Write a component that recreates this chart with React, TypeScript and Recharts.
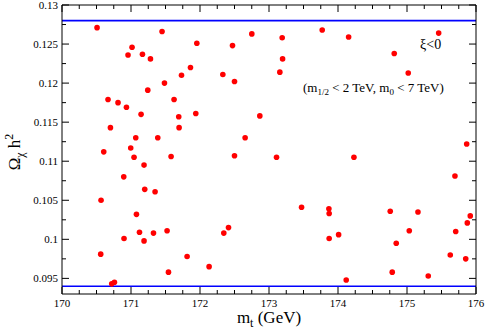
import React from "react";
import { ScatterChart, Scatter, XAxis, YAxis, ReferenceLine } from "recharts";

const mtValues = [
  170.508, 171.45, 171.015, 170.957, 171.166, 171.282, 171.954, 172.471, 171.862, 171.732,
  172.331, 172.5, 171.485, 171.243, 170.667, 170.812, 170.934, 171.624, 171.146, 171.692,
  171.939, 170.702, 171.697, 171.069, 171.388, 172.654, 170.605, 170.996, 171.044, 171.581,
  172.5, 171.189, 172.751, 173.191, 173.771, 174.154, 175.459, 173.197, 174.815, 173.157,
  175.018, 172.867, 175.865, 173.109, 174.231, 170.895, 171.199, 171.349, 170.566, 171.079,
  170.899, 171.123, 171.189, 171.326, 171.523, 170.561, 171.813, 172.132, 171.543, 170.721,
  170.76, 172.345, 172.413, 175.695, 173.472, 173.868, 173.872, 173.872, 174.009, 174.757,
  175.159, 175.033, 174.844, 175.706, 175.874, 175.917, 175.627, 175.851, 174.119, 174.786,
  175.308,
];
const omegaValues = [
  0.1271, 0.1266, 0.1246, 0.1236, 0.1237, 0.1231, 0.1251, 0.1248, 0.122, 0.121,
  0.1211, 0.1202, 0.12, 0.1191, 0.1179, 0.1175, 0.1169, 0.1179, 0.116, 0.1157,
  0.1161, 0.1143, 0.1143, 0.113, 0.113, 0.113, 0.1112, 0.1117, 0.1105, 0.1106,
  0.1107, 0.1095, 0.1263, 0.1258, 0.1268, 0.1259, 0.1264, 0.1231, 0.1238, 0.1214,
  0.1213, 0.1158, 0.1122, 0.1105, 0.1105, 0.108, 0.1064, 0.1061, 0.105, 0.1032,
  0.1001, 0.1009, 0.0998, 0.1008, 0.1011, 0.0981, 0.0978, 0.0965, 0.0958, 0.0943,
  0.0945, 0.1008, 0.1015, 0.1081, 0.1041, 0.1039, 0.1033, 0.1001, 0.1006, 0.1036,
  0.1035, 0.1011, 0.0995, 0.101, 0.1021, 0.103, 0.098, 0.0975, 0.0948, 0.0958,
  0.0953,
];

const xMajorTicks = [170, 171, 172, 173, 174, 175, 176];
const xTickLabels = ["170", "171", "172", "173", "174", "175", "176"];
const xAllTicks = [
  170, 170.25, 170.5, 170.75, 171, 171.25, 171.5, 171.75, 172, 172.25, 172.5, 172.75, 173,
  173.25, 173.5, 173.75, 174, 174.25, 174.5, 174.75, 175, 175.25, 175.5, 175.75, 176,
];
const yMajorTicks = [0.095, 0.1, 0.105, 0.11, 0.115, 0.12, 0.125, 0.13];
const yTickLabels = ["0.095", "0.1", "0.105", "0.11", "0.115", "0.12", "0.125", "0.13"];
const yAllTicks = [
  0.095, 0.0975, 0.1, 0.1025, 0.105, 0.1075, 0.11, 0.1125, 0.115, 0.1175, 0.12, 0.1225,
  0.125, 0.1275, 0.13,
];
const boundLines = [0.094, 0.128];

const data = mtValues.map((m, i) => ({ mt: m, omega: omegaValues[i] }));

const FONT = "Liberation Serif, serif";
const MAJ = 7;
const MIN = 4;

const findIdx = (arr: number[], v: number) => arr.findIndex((a) => Math.abs(a - v) < 1e-9);

const BottomTick = (p: any) => {
  const { x, y, payload } = p;
  const i = findIdx(xMajorTicks, payload.value);
  const major = i >= 0;
  return (
    <g>
      <line x1={x} x2={x} y1={y} y2={y - (major ? MAJ : MIN)} stroke="#000" strokeWidth={1} />
      {major && (
        <text x={x} y={y + 12.5} textAnchor="middle" fontSize={11} style={{ fontFamily: FONT }} fill="#000">
          {xTickLabels[i]}
        </text>
      )}
    </g>
  );
};

const TopTick = (p: any) => {
  const { x, y, payload } = p;
  const major = findIdx(xMajorTicks, payload.value) >= 0;
  return <line x1={x} x2={x} y1={y} y2={y + (major ? MAJ : MIN)} stroke="#000" strokeWidth={1} />;
};

const LeftTick = (p: any) => {
  const { x, y, payload } = p;
  const i = findIdx(yMajorTicks, payload.value);
  const major = i >= 0;
  return (
    <g>
      <line x1={x} x2={x + (major ? MAJ : MIN)} y1={y} y2={y} stroke="#000" strokeWidth={1} />
      {major && (
        <text x={x - 4} y={y + 4} textAnchor="end" fontSize={11} style={{ fontFamily: FONT }} fill="#000">
          {yTickLabels[i]}
        </text>
      )}
    </g>
  );
};

const RightTick = (p: any) => {
  const { x, y, payload } = p;
  const major = findIdx(yMajorTicks, payload.value) >= 0;
  return <line x1={x} x2={x - (major ? MAJ : MIN)} y1={y} y2={y} stroke="#000" strokeWidth={1} />;
};

const Dot = (p: any) => <circle cx={p.cx} cy={p.cy} r={2.8} fill="#ff0000" />;

export default function App() {
  return (
    <div style={{ position: "absolute", left: 0, top: 0, background: "#fff" }}>
      <ScatterChart
        width={486}
        height={331}
        margin={{ top: 0, right: 0, bottom: 0, left: 0 }}
        style={{ fontFamily: FONT }}
      >
        <XAxis
          xAxisId={0}
          dataKey="mt"
          type="number"
          domain={[170, 176]}
          ticks={xAllTicks}
          interval={0}
          height={37}
          tickSize={0}
          tickMargin={0}
          tickLine={false}
          axisLine={{ stroke: "#000", strokeWidth: 1 }}
          tick={<BottomTick />}
          allowDataOverflow
        />
        <XAxis
          xAxisId="top"
          orientation="top"
          dataKey="mt"
          type="number"
          domain={[170, 176]}
          ticks={xAllTicks}
          interval={0}
          height={5}
          tickSize={0}
          tickMargin={0}
          tickLine={false}
          axisLine={{ stroke: "#000", strokeWidth: 1 }}
          tick={<TopTick />}
          allowDataOverflow
        />
        <YAxis
          yAxisId={0}
          dataKey="omega"
          type="number"
          domain={[0.093, 0.13]}
          ticks={yAllTicks}
          interval={0}
          width={62}
          tickSize={0}
          tickMargin={0}
          tickLine={false}
          axisLine={{ stroke: "#000", strokeWidth: 1 }}
          tick={<LeftTick />}
          allowDataOverflow
        />
        <YAxis
          yAxisId="right"
          orientation="right"
          dataKey="omega"
          type="number"
          domain={[0.093, 0.13]}
          ticks={yAllTicks}
          interval={0}
          width={10}
          tickSize={0}
          tickMargin={0}
          tickLine={false}
          axisLine={{ stroke: "#000", strokeWidth: 1 }}
          tick={<RightTick />}
          allowDataOverflow
        />
        {boundLines.map((b) => (
          <ReferenceLine key={b} y={b} xAxisId={0} yAxisId={0} stroke="#0000ff" strokeWidth={1.6} />
        ))}
        <Scatter data={data} xAxisId={0} yAxisId={0} shape={<Dot />} isAnimationActive={false} />
        <Scatter data={data} xAxisId="top" yAxisId="right" shape={() => <g />} isAnimationActive={false} />
        <text x={420} y={49} fontSize={14} style={{ fontFamily: FONT }} fill="#000">
          ξ&lt;0
        </text>
        <text x={303} y={92} fontSize={13} style={{ fontFamily: FONT }} fill="#000">
          (m<tspan fontSize={9} dy={3}>1/2</tspan>
          <tspan dy={-3}> &lt; 2 TeV, m</tspan>
          <tspan fontSize={9} dy={3}>0</tspan>
          <tspan dy={-3}> &lt; 7 TeV)</tspan>
        </text>
        <text x={269} y={323} textAnchor="middle" fontSize={17} style={{ fontFamily: FONT }} fill="#000">
          m<tspan fontSize={12} dy={4}>t</tspan>
          <tspan dy={-4}> (GeV)</tspan>
        </text>
        <text
          transform="translate(20,152) rotate(-90)"
          textAnchor="middle"
          fontSize={17}
          style={{ fontFamily: FONT }}
          fill="#000"
        >
          Ω<tspan fontSize={12} dy={4}>χ</tspan>
          <tspan dy={-4}> h</tspan>
          <tspan fontSize={12} dy={-7}>2</tspan>
        </text>
      </ScatterChart>
    </div>
  );
}
